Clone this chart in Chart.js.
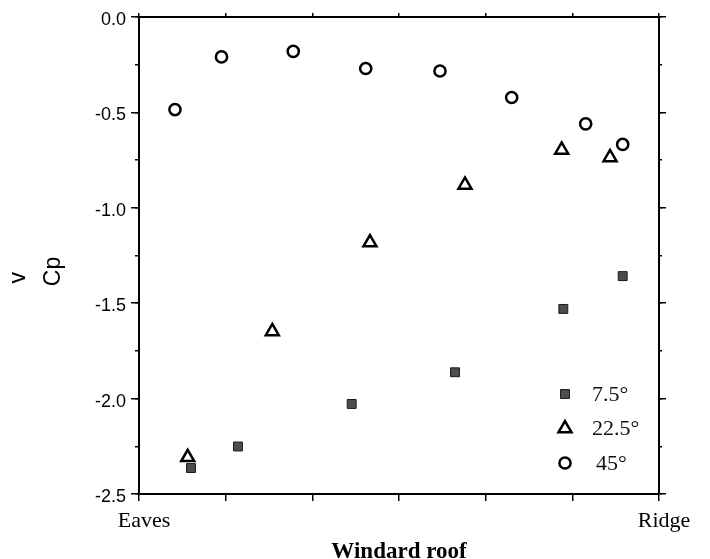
<!DOCTYPE html>
<html>
<head>
<meta charset="utf-8">
<script src="https://cdn.jsdelivr.net/npm/chart.js@4.4.1/dist/chart.umd.min.js"></script>
<style>
  html, body { margin: 0; padding: 0; background: #fff; }
  #wrap { width: 710px; height: 559px; position: relative; }
</style>
</head>
<body>
<div id="wrap"><canvas id="c" width="710" height="559"></canvas></div>
<script>
// Series labels
const seriesLabels = ['7.5°', '22.5°', '45°'];

// 7.5° (filled squares)
const x75 = [0.600, 1.142, 2.454, 3.646, 4.896, 5.581];
const y75 = [-2.364, -2.251, -2.028, -1.862, -1.530, -1.358];

// 22.5° (open triangles)
const x225 = [0.562, 1.538, 2.665, 3.761, 4.877, 5.435];
const y225 = [-2.308, -1.648, -1.182, -0.880, -0.697, -0.736];

// 45° (open circles)
const x45 = [0.415, 0.952, 1.780, 2.616, 3.473, 4.300, 5.154, 5.581];
const y45 = [-0.485, -0.209, -0.180, -0.270, -0.283, -0.422, -0.560, -0.668];

// Axis text
const xStartLabel = 'Eaves';
const xEndLabel = 'Ridge';
const xTitle = 'Windard roof';
const yTitleLines = ['v       ', 'Cp     '];

const toPts = (xs, ys) => xs.map((x, i) => ({ x: x, y: ys[i] }));

const insideLegend = {
  id: 'insideLegend',
  afterDraw(chart) {
    const ctx = chart.ctx;
    const mx = 565, tx = 592, y0 = 394, dy = 34.5;
    chart.data.datasets.forEach((ds, i) => {
      const y = y0 + i * dy;
      ctx.save();
      ctx.fillStyle = ds.backgroundColor;
      ctx.strokeStyle = ds.borderColor;
      ctx.lineWidth = ds.borderWidth;
      Chart.helpers.drawPoint(ctx, {
        pointStyle: ds.pointStyle, radius: ds.pointRadius,
        rotation: 0, borderWidth: ds.borderWidth
      }, mx, y);
      ctx.restore();
      ctx.save();
      ctx.fillStyle = '#111';
      ctx.font = '22px "Liberation Serif"';
      ctx.textAlign = 'left';
      ctx.textBaseline = 'middle';
      ctx.fillText(ds.label, tx + (i === 2 ? 4 : 0), y + 1);
      ctx.restore();
    });
  }
};

const blackGrid = (len) => ({ drawOnChartArea: false, tickLength: len, color: '#000', lineWidth: 1.5 });

new Chart(document.getElementById('c'), {
  type: 'scatter',
  data: {
    datasets: [
      { label: seriesLabels[0], data: toPts(x75, y75), pointStyle: 'rect', pointRadius: 6.3,
        backgroundColor: '#4d4d4d', borderColor: '#1a1a1a', borderWidth: 1 },
      { label: seriesLabels[1], data: toPts(x225, y225), pointStyle: 'triangle', pointRadius: 7.5,
        backgroundColor: 'rgba(255,255,255,0)', borderColor: '#000', borderWidth: 2.5 },
      { label: seriesLabels[2], data: toPts(x45, y45), pointStyle: 'circle', pointRadius: 5.6,
        backgroundColor: 'rgba(255,255,255,0)', borderColor: '#000', borderWidth: 2.5 }
    ]
  },
  options: {
    responsive: false,
    animation: false,
    events: [],
    layout: { padding: 0 },
    plugins: { legend: { display: false }, tooltip: { enabled: false } },
    scales: {
      x: {
        type: 'linear', position: 'bottom', min: 0, max: 6, weight: 1,
        afterFit: s => { s.height = 65; },
        border: { display: true, color: '#000', width: 2 },
        grid: blackGrid(7),
        ticks: {
          stepSize: 1, autoSkip: false, maxRotation: 0, padding: 7, labelOffset: 5,
          color: '#000', font: { family: 'Liberation Serif', size: 22 },
          callback: v => v === 0 ? xStartLabel : (v === 6 ? xEndLabel : '')
        },
        title: { display: true, text: xTitle, color: '#000', padding: 0,
          font: { family: 'Liberation Serif', size: 23, weight: 'bold', lineHeight: '14px' } }
      },
      x2: {
        type: 'linear', position: 'top', min: 0, max: 6,
        afterFit: s => { s.height = 17; },
        border: { display: true, color: '#000', width: 2 },
        grid: blackGrid(4),
        ticks: { stepSize: 1, display: false }
      },
      y: {
        type: 'linear', position: 'left', min: -2.5, max: 0, weight: 1,
        afterFit: s => { s.width = 139; },
        border: { display: true, color: '#000', width: 2 },
        grid: blackGrid(8),
        ticks: {
          stepSize: 0.5, autoSkip: false, padding: 5, labelOffset: 3,
          color: '#000', font: { family: 'Liberation Sans', size: 18 },
          callback: v => (Math.abs(v) < 1e-9 ? 0 : v).toFixed(1)
        },
        title: { display: true, text: yTitleLines, color: '#000', padding: { top: 1, bottom: 0 },
          font: { family: 'Liberation Sans', size: 23, lineHeight: '35px' } }
      },
      yMinor: {
        type: 'linear', position: 'left', min: -2.5, max: 0, weight: 0,
        afterFit: s => { s.width = 0; },
        border: { display: false },
        grid: blackGrid(4),
        ticks: { stepSize: 0.25, display: false }
      },
      y2Minor: {
        type: 'linear', position: 'right', min: -2.5, max: 0, weight: 0,
        afterFit: s => { s.width = 0; },
        border: { display: false },
        grid: blackGrid(3),
        ticks: { stepSize: 0.25, display: false }
      },
      y2: {
        type: 'linear', position: 'right', min: -2.5, max: 0, weight: 1,
        afterFit: s => { s.width = 51; },
        border: { display: true, color: '#000', width: 2 },
        grid: blackGrid(7),
        ticks: { stepSize: 0.5, display: false }
      }
    }
  },
  plugins: [insideLegend]
});
</script>
</body>
</html>
